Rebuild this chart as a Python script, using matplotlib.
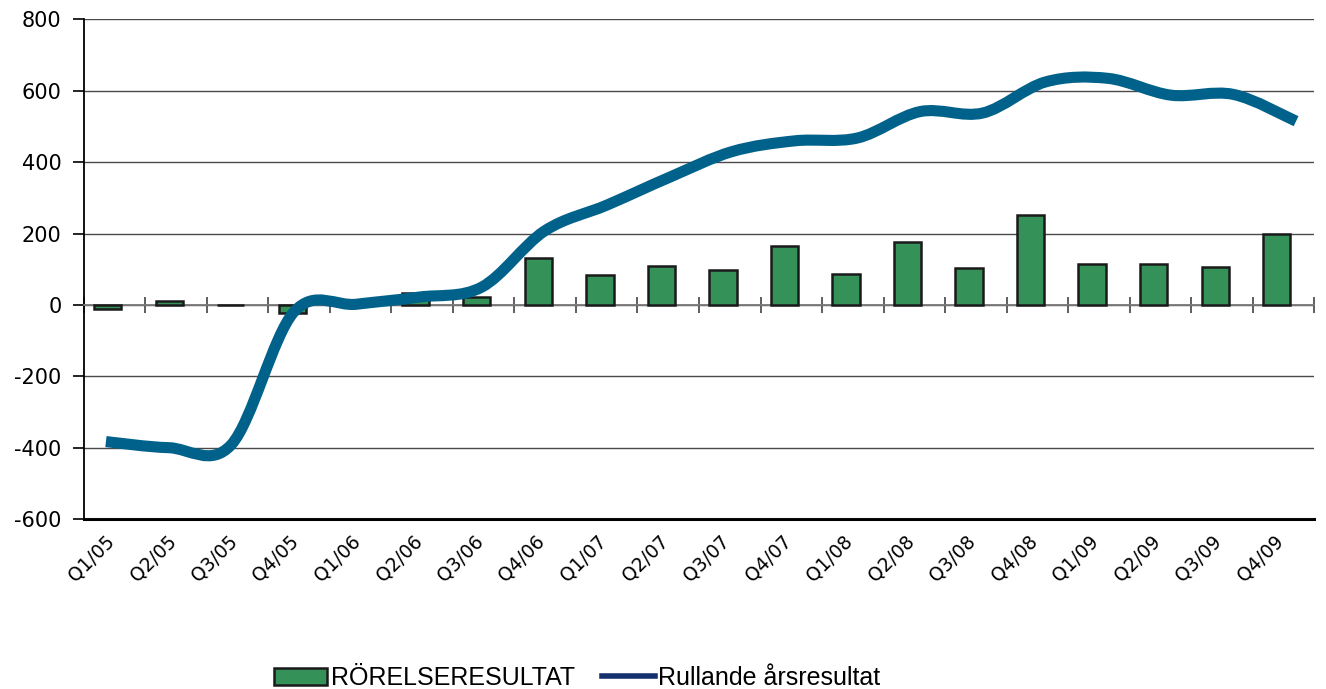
import matplotlib
matplotlib.use("Agg")
import matplotlib.pyplot as plt
import matplotlib.transforms as mtransforms
from matplotlib.path import Path
from matplotlib.patches import PathPatch, Patch
from matplotlib.lines import Line2D

# quarters on the category axis
quarters = ["Q1/05", "Q2/05", "Q3/05", "Q4/05",
            "Q1/06", "Q2/06", "Q3/06", "Q4/06",
            "Q1/07", "Q2/07", "Q3/07", "Q4/07",
            "Q1/08", "Q2/08", "Q3/08", "Q4/08",
            "Q1/09", "Q2/09", "Q3/09", "Q4/09"]

# quarterly operating result (bars)
rorelseresultat = [-12, 12, 0, -23, 5, 34, 23, 132, 85, 108,
                   98, 166, 86, 177, 103, 252, 115, 115, 107, 199]

# rolling twelve-month result (smoothed line)
rullande = [-383, -400, -392, -20, 2, 22, 50, 207, 280, 358,
            430, 460, 468, 542, 538, 625, 635, 588, 590, 515]

yticks = [-600, -400, -200, 0, 200, 400, 600, 800]

bar_color = "#349259"
line_color = "#00628b"
legend_line_color = "#14306f"


def smooth_path(xs, ys):
    # excel style smoothed line: cubic bezier through every point
    n = len(xs)
    pts = list(zip(xs, ys))
    verts = [pts[0]]
    codes = [Path.MOVETO]
    for i in range(n - 1):
        p0 = pts[i - 1] if i > 0 else pts[i]
        p1 = pts[i]
        p2 = pts[i + 1]
        p3 = pts[i + 2] if i + 2 < n else pts[i + 1]
        c1 = (p1[0] + (p2[0] - p0[0]) / 6, p1[1] + (p2[1] - p0[1]) / 6)
        c2 = (p2[0] - (p3[0] - p1[0]) / 6, p2[1] - (p3[1] - p1[1]) / 6)
        verts += [c1, c2, p2]
        codes += [Path.CURVE4] * 3
    return Path(verts, codes)


fig = plt.figure(figsize=(13.26, 6.89), dpi=100)
ax = fig.add_axes([0.0633, 0.2467, 0.9277, 0.725])

x = list(range(len(quarters)))
ax.bar([i - 0.11 for i in x], rorelseresultat, width=0.44,
       color=bar_color, edgecolor="#1a1a1a", linewidth=1.8, zorder=3)

ax.set_xlim(-0.5, len(quarters) - 0.5)
ax.set_ylim(-600, 800)
ax.set_yticks(yticks)
ax.set_yticklabels([str(v) for v in yticks], fontsize=15)
ax.yaxis.grid(True, color="#4a4a4a", linewidth=1.0, zorder=0)
ax.set_axisbelow(True)

# category axis crosses at zero
ax.spines["bottom"].set_position(("data", 0))
ax.spines["bottom"].set_color("#7a7a7a")
ax.spines["bottom"].set_linewidth(1.3)
ax.spines["top"].set_visible(False)
ax.spines["right"].set_visible(False)
ax.spines["left"].set_linewidth(1.3)
ax.set_xticks([i - 0.5 for i in range(len(quarters) + 1)])
ax.set_xticklabels([])
ax.tick_params(axis="x", direction="inout", length=12, width=1.2, color="#444444")
ax.tick_params(axis="y", direction="out", length=8, width=1.2, pad=8)

# labels sit below the plot frame
sec = ax.secondary_xaxis(0.0)
sec.set_xticks(x)
sec.set_xticklabels(quarters, rotation=45, ha="right", va="top",
                    rotation_mode="anchor", fontsize=13.5)
sec.tick_params(length=0, pad=9)
sec.spines["bottom"].set_linewidth(2.2)
sec.spines["bottom"].set_color("black")
shift = mtransforms.ScaledTranslation(-10 / 100, 0, fig.dpi_scale_trans)
for lbl in sec.get_xticklabels():
    lbl.set_transform(lbl.get_transform() + shift)

# the rolling line lives on its own category axis
ax2 = ax.twiny()
ax2.set_xlim(-0.351, 19.287)
ax2.set_xticks([])
for s in ax2.spines.values():
    s.set_visible(False)
path = smooth_path(list(range(len(rullande))), rullande)
ax2.add_patch(PathPatch(path, facecolor="none", edgecolor=line_color,
                        linewidth=8, capstyle="butt", joinstyle="round", zorder=4))

handles = [Patch(facecolor=bar_color, edgecolor="#1a1a1a", linewidth=1.8),
           Line2D([0], [0], color=legend_line_color, linewidth=4)]
fig.legend(handles, ["RÖRELSERESULTAT", "Rullande årsresultat"],
           loc="center", bbox_to_anchor=(0.4355, 0.016), ncol=2, frameon=False,
           prop={"family": "Liberation Sans", "size": 18},
           handlelength=2.1, handleheight=0.65, handletextpad=0.15,
           columnspacing=1.1)

fig.savefig("out.png", dpi=100)
